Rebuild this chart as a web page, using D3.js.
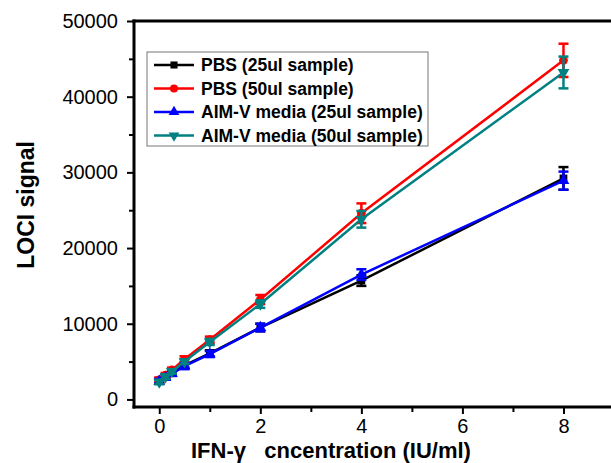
<!DOCTYPE html>
<html>
<head>
<meta charset="utf-8">
<script src="https://cdn.jsdelivr.net/npm/d3@7"></script>
<style>
  body { margin: 0; background: #fff; }
  text { font-family: Arial, "Liberation Sans", sans-serif; }
</style>
</head>
<body>
<div id="wrapper"></div>
<script>
const concentrations = [0, 0.125, 0.25, 0.5, 1, 2, 4, 8]

const pbs25 = [2500, 3000, 3500, 4500, 6100, 9500, 15700, 29200]
const pbs25Err = [300, 300, 300, 300, 400, 500, 700, 1500]
const pbs50 = [2600, 3200, 3900, 5300, 7900, 13200, 24600, 44800]
const pbs50Err = [300, 300, 300, 400, 400, 600, 1300, 2200]
const aim25 = [2400, 2900, 3400, 4400, 6000, 9500, 16500, 28900]
const aim25Err = [300, 300, 300, 400, 400, 500, 700, 1200]
const aim50 = [2300, 3000, 3700, 5000, 7600, 12600, 23800, 43200]
const aim50Err = [300, 300, 300, 300, 400, 500, 1100, 2100]

const seriesNames = [
  "PBS (25ul sample)",
  "PBS (50ul sample)",
  "AIM-V media (25ul sample)",
  "AIM-V media (50ul sample)"
]
const xTicks = [0, 2, 4, 6, 8]
const yTicks = [0, 10000, 20000, 30000, 40000, 50000]

const series = [
  { name: seriesNames[0], values: pbs25, errs: pbs25Err, color: "#000000", symbol: d3.symbolSquare, rot: 0 },
  { name: seriesNames[1], values: pbs50, errs: pbs50Err, color: "#ff0000", symbol: d3.symbolCircle, rot: 0 },
  { name: seriesNames[2], values: aim25, errs: aim25Err, color: "#0000ff", symbol: d3.symbolTriangle, rot: 0 },
  { name: seriesNames[3], values: aim50, errs: aim50Err, color: "#008080", symbol: d3.symbolTriangle, rot: 180 }
]

const width = 611
const height = 463
let dimensions = {
  width: width,
  height: height,
  margin: { top: 21, right: -3, bottom: 56, left: 134 }
}
dimensions.boundedWidth = dimensions.width - dimensions.margin.left - dimensions.margin.right
dimensions.boundedHeight = dimensions.height - dimensions.margin.top - dimensions.margin.bottom

const svg = d3.select("#wrapper")
  .append("svg")
    .attr("width", dimensions.width)
    .attr("height", dimensions.height)

const bounds = svg.append("g")
  .attr("transform", `translate(${dimensions.margin.left},${dimensions.margin.top})`)

const xScale = d3.scaleLinear()
  .domain([-0.5, 9])
  .range([0, dimensions.boundedWidth])

const yScale = d3.scaleLinear()
  .domain([-1000, 50000])
  .range([dimensions.boundedHeight, 0])

// frame: left, bottom and top edges as filled bars
const frame = [
  { x: -1.5, y: -1.5, w: 3, h: dimensions.boundedHeight + 3 },
  { x: -1.5, y: dimensions.boundedHeight - 1.5, w: dimensions.boundedWidth + 20, h: 3 },
  { x: -1.5, y: -1.5, w: dimensions.boundedWidth + 20, h: 3 }
]
bounds.selectAll(".frame")
  .data(frame)
  .join("rect")
  .attr("class", "frame")
  .attr("x", d => d.x)
  .attr("y", d => d.y)
  .attr("width", d => d.w)
  .attr("height", d => d.h)
  .attr("fill", "#000")

// minor ticks
bounds.append("g")
  .attr("class", "minor")
  .attr("transform", `translate(0,${dimensions.boundedHeight})`)
  .call(d3.axisBottom(xScale).tickValues([1, 3, 5, 7]).tickSize(5).tickFormat(""))
bounds.append("g")
  .attr("class", "minor")
  .call(d3.axisLeft(yScale).tickValues([5000, 15000, 25000, 35000, 45000]).tickSize(5).tickFormat(""))

// major ticks
bounds.append("g")
  .attr("transform", `translate(0,${dimensions.boundedHeight})`)
  .call(d3.axisBottom(xScale).tickValues(xTicks).tickSize(7).tickSizeOuter(0).tickPadding(5).tickFormat(d3.format("d")))
bounds.append("g")
  .call(d3.axisLeft(yScale).tickValues(yTicks).tickSize(7).tickSizeOuter(0).tickPadding(9).tickFormat(d3.format("d")))

bounds.selectAll(".domain").remove()
bounds.selectAll(".tick line").attr("stroke", "#000").attr("stroke-width", 2)
bounds.selectAll(".tick text")
  .attr("fill", "#000")
  .style("font-size", "20px")

// series
const line = d3.line()
  .x((d, i) => xScale(concentrations[i]))
  .y(d => yScale(d))

for (const s of series) {
  const g = bounds.append("g")
  g.append("path")
    .datum(s.values)
    .attr("d", line)
    .attr("fill", "none")
    .attr("stroke", s.color)
    .attr("stroke-width", 2.5)

  const bars = g.selectAll(".err")
    .data(s.values)
    .join("g")
    .attr("class", "err")
    .attr("stroke", s.color)
    .attr("stroke-width", 2.5)
  bars.append("line")
    .attr("x1", (d, i) => xScale(concentrations[i]))
    .attr("x2", (d, i) => xScale(concentrations[i]))
    .attr("y1", (d, i) => yScale(d - s.errs[i]))
    .attr("y2", (d, i) => yScale(d + s.errs[i]))
  bars.append("line")
    .attr("x1", (d, i) => xScale(concentrations[i]) - 5)
    .attr("x2", (d, i) => xScale(concentrations[i]) + 5)
    .attr("y1", (d, i) => yScale(d + s.errs[i]))
    .attr("y2", (d, i) => yScale(d + s.errs[i]))
  bars.append("line")
    .attr("x1", (d, i) => xScale(concentrations[i]) - 5)
    .attr("x2", (d, i) => xScale(concentrations[i]) + 5)
    .attr("y1", (d, i) => yScale(d - s.errs[i]))
    .attr("y2", (d, i) => yScale(d - s.errs[i]))

  g.selectAll(".mark")
    .data(s.values)
    .join("path")
    .attr("class", "mark")
    .attr("d", d3.symbol().type(s.symbol).size(60))
    .attr("transform", (d, i) => `translate(${xScale(concentrations[i])},${yScale(d)}) rotate(${s.rot})`)
    .attr("fill", s.color)
}

// legend
const legend = svg.append("g").attr("transform", "translate(147,52)")
legend.append("rect")
  .attr("width", 281)
  .attr("height", 94)
  .attr("fill", "#fff")
  .attr("stroke", "#777")
  .attr("stroke-width", 1)

series.forEach((s, i) => {
  const row = legend.append("g").attr("transform", `translate(0,${13 + i * 23.5})`)
  row.append("line")
    .attr("x1", 7).attr("x2", 47)
    .attr("stroke", s.color).attr("stroke-width", 2.5)
  row.append("path")
    .attr("d", d3.symbol().type(s.symbol).size(50))
    .attr("transform", `translate(27,0) rotate(${s.rot})`)
    .attr("fill", s.color)
  row.append("text")
    .attr("x", 54)
    .attr("dy", "0.35em")
    .style("font-size", "17.5px")
    .style("font-weight", "bold")
    .text(s.name)
})

// axis titles
svg.append("text")
  .attr("transform", `translate(34,${yScale(25700) + dimensions.margin.top}) rotate(-90)`)
  .attr("text-anchor", "middle")
  .style("font-size", "23px")
  .style("font-weight", "bold")
  .text("LOCI signal")

svg.append("text")
  .attr("x", 191)
  .attr("y", 458)
  .style("font-size", "22px")
  .style("font-weight", "bold")
  .style("white-space", "pre")
  .text("IFN-γ   cncentration (IU/ml)")
</script>
</body>
</html>
